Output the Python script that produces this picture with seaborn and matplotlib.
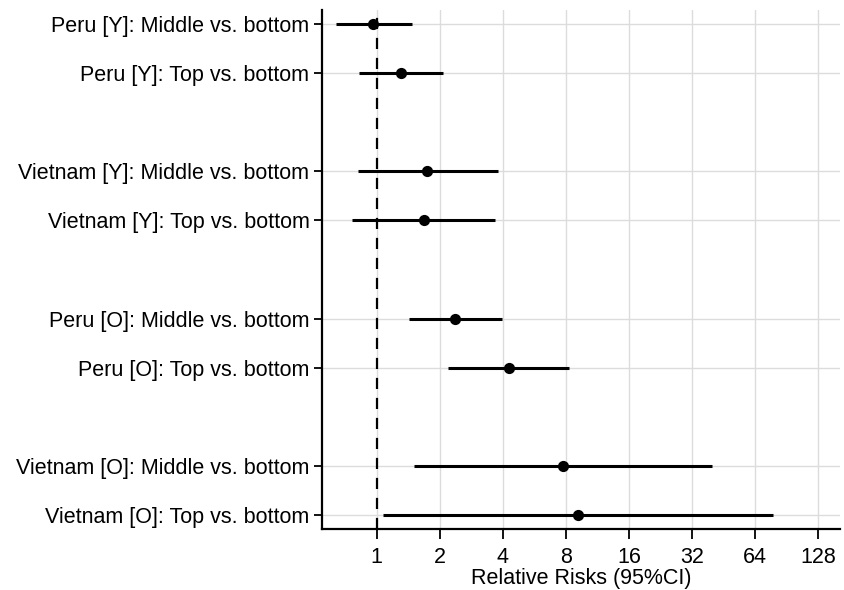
# Forest plot of relative risks (log2 x-axis)
import matplotlib
matplotlib.use("Agg")
import matplotlib.pyplot as plt
import matplotlib.ticker as mticker
import pandas as pd
import seaborn as sns

labels = [
    "Peru [Y]: Middle vs. bottom",
    "Peru [Y]: Top vs. bottom",
    "Vietnam [Y]: Middle vs. bottom",
    "Vietnam [Y]: Top vs. bottom",
    "Peru [O]: Middle vs. bottom",
    "Peru [O]: Top vs. bottom",
    "Vietnam [O]: Middle vs. bottom",
    "Vietnam [O]: Top vs. bottom",
]
rr = [0.96, 1.30, 1.73, 1.68, 2.36, 4.28, 7.74, 9.13]
ci_low = [0.64, 0.82, 0.81, 0.76, 1.42, 2.19, 1.50, 1.07]
ci_high = [1.48, 2.07, 3.79, 3.66, 3.95, 8.27, 39.9, 78.0]
xticks = [1, 2, 4, 8, 16, 32, 64, 128]

# two rows per group, one blank row between groups
ypos = [(i // 2) * 3 + i % 2 for i in range(len(labels))]
df = pd.DataFrame({"label": labels, "rr": rr, "lo": ci_low, "hi": ci_high, "y": ypos})

sns.set_style("white")
plt.rcParams["font.family"] = ["Liberation Sans", "DejaVu Sans"]
plt.rcParams["text.color"] = "black"
plt.rcParams["axes.labelcolor"] = "black"
plt.rcParams["xtick.color"] = "black"
plt.rcParams["ytick.color"] = "black"

fig = plt.figure(figsize=(8.45, 5.9), dpi=100)
ax = fig.add_axes([0.381, 0.103, 0.613, 0.880])

ax.set_xscale("log", base=2)
for x in xticks:
    ax.axvline(x, color="#dcdcdc", lw=1.0, zorder=0)
for y in df["y"]:
    ax.axhline(y, color="#dcdcdc", lw=1.0, zorder=0)

ax.axvline(1, color="black", lw=1.6, ls=(0, (5, 4)), zorder=1)
ax.hlines(df["y"], df["lo"], df["hi"], color="black", lw=2.2, zorder=2)
sns.scatterplot(data=df, x="rr", y="y", color="black", s=65, edgecolor="black",
                linewidth=0, ax=ax, zorder=3)

ax.set_xlim(0.547, 163)
ax.set_ylim(10.28, -0.28)
ax.xaxis.set_major_locator(mticker.FixedLocator(xticks))
ax.xaxis.set_minor_locator(mticker.NullLocator())
ax.set_xticklabels([str(x) for x in xticks])
ax.set_yticks(df["y"])
ax.set_yticklabels(df["label"])
ax.tick_params(axis="both", labelsize=15.5, width=1.3, direction="out",
               left=True, bottom=True)
ax.tick_params(axis="x", length=7, pad=6)
ax.tick_params(axis="y", length=6, pad=3)
ax.set_xlabel("Relative Risks (95%CI)", fontsize=15.5, labelpad=0)
ax.set_ylabel("")

for side in ["top", "right"]:
    ax.spines[side].set_visible(False)
for side in ["left", "bottom"]:
    ax.spines[side].set_color("black")
    ax.spines[side].set_linewidth(1.6)

fig.savefig("out.png", dpi=100)
